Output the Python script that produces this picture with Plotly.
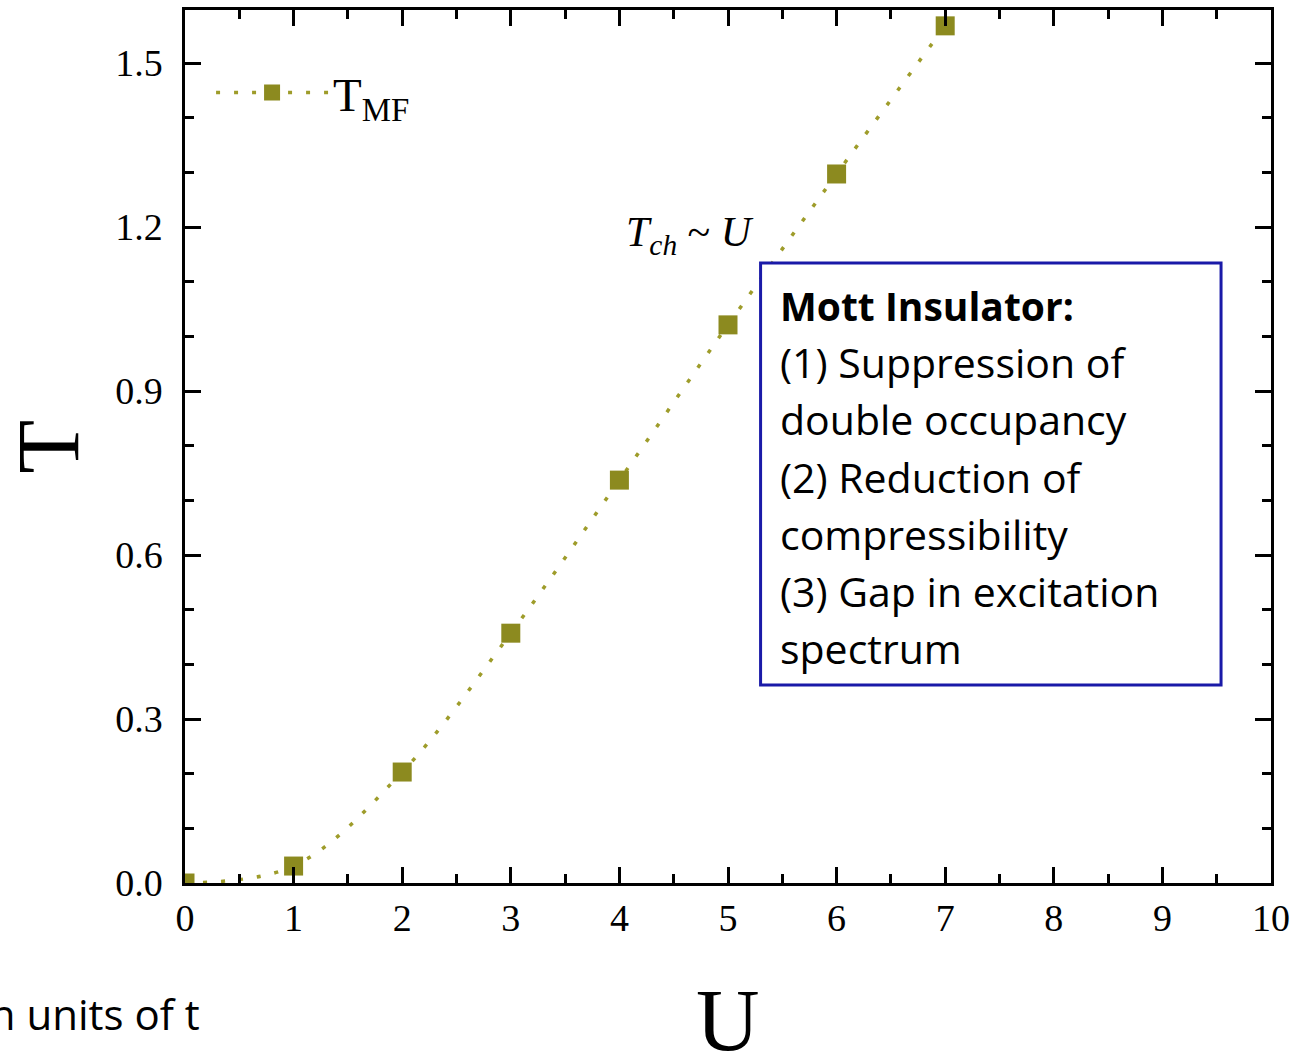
import plotly.graph_objects as go

U = [0, 1, 2, 3, 4, 5, 6, 7]
T_MF = [0.0, 0.031, 0.203, 0.457, 0.737, 1.021, 1.297, 1.568]

x_ticks = [0, 1, 2, 3, 4, 5, 6, 7, 8, 9, 10]
y_ticks = [0.0, 0.3, 0.6, 0.9, 1.2, 1.5]
y_ticklabels = ["0.0", "0.3", "0.6", "0.9", "1.2", "1.5"]

box_lines = [
    "<b>Mott Insulator:</b>",
    "(1) Suppression of",
    "double occupancy",
    "(2) Reduction of",
    "compressibility",
    "(3) Gap in excitation",
    "spectrum",
]

olive = "#8c8a1f"
serif = "Liberation Serif"
sans = "Open Sans"

fig = go.Figure()
fig.add_trace(go.Scatter(
    x=U, y=T_MF, mode="lines+markers", name="T<sub>MF</sub>",
    line=dict(color="#9e9c2a", width=3.5, dash="4px,14px", shape="spline"),
    marker=dict(symbol="square", size=19, color=olive),
))

axis_common = dict(
    showline=True, linecolor="black", linewidth=2.5, mirror="ticks",
    ticks="inside", ticklen=16, tickwidth=2.5, tickcolor="black",
    showgrid=False, zeroline=False, automargin=False,
    tickfont=dict(family=serif, size=38, color="black"),
)

fig.update_xaxes(
    range=[0, 10], tickvals=x_ticks, ticklabelstandoff=0,
    ticklabeloverflow="allow",
    minor=dict(dtick=0.5, ticks="inside", ticklen=9, tickwidth=2.5, tickcolor="black", showgrid=False),
    **axis_common,
)
fig.update_yaxes(
    range=[0, 1.597], tickvals=y_ticks, ticktext=y_ticklabels, ticklabelstandoff=12,
    minor=dict(dtick=0.1, ticks="inside", ticklen=9, tickwidth=2.5, tickcolor="black", showgrid=False),
    title=dict(text="T", font=dict(family=serif, size=88, color="black"), standoff=15),
    **axis_common,
)

# x-axis title placed low, near the bottom edge, as in the reference
fig.add_annotation(
    x=0.5, y=-0.158, xref="paper", yref="paper",
    text="U", showarrow=False, xanchor="center", yanchor="middle",
    font=dict(family=serif, size=88, color="black"),
)

# box rectangle
fig.add_shape(type="rect", xref="x", yref="y", x0=5.30, x1=9.54, y0=0.362, y1=1.134,
              line=dict(color="#1a1aa8", width=3), fillcolor="white", layer="above")

for i, txt in enumerate(box_lines):
    fig.add_annotation(
        x=5.46, y=1.057 - i * 0.1045, xref="x", yref="y",
        text=txt, showarrow=False, xanchor="left", yanchor="middle",
        font=dict(family=sans, size=(39 if i == 0 else 41), color="black"),
    )

fig.add_annotation(
    x=4.65, y=1.185, xref="x", yref="y",
    text="<i>T</i><sub><i>ch</i></sub> ~ <i>U</i>", showarrow=False,
    font=dict(family=serif, size=42, color="black"),
)

fig.add_annotation(
    x=0.0157, y=-0.149, xref="paper", yref="paper",
    text="In units of t", showarrow=False, xanchor="right", yanchor="middle",
    font=dict(family=sans, size=42, color="black"),
)

fig.update_layout(
    width=1294, height=1052,
    margin=dict(l=185, r=23, t=10, b=169, autoexpand=False),
    plot_bgcolor="white", paper_bgcolor="white",
    showlegend=True,
    legend=dict(x=0.024, y=0.948, xanchor="left", yanchor="top",
                bgcolor="rgba(0,0,0,0)", font=dict(family=serif, size=47, color="black"),
                itemwidth=112),
)

fig.write_html("out.html")
